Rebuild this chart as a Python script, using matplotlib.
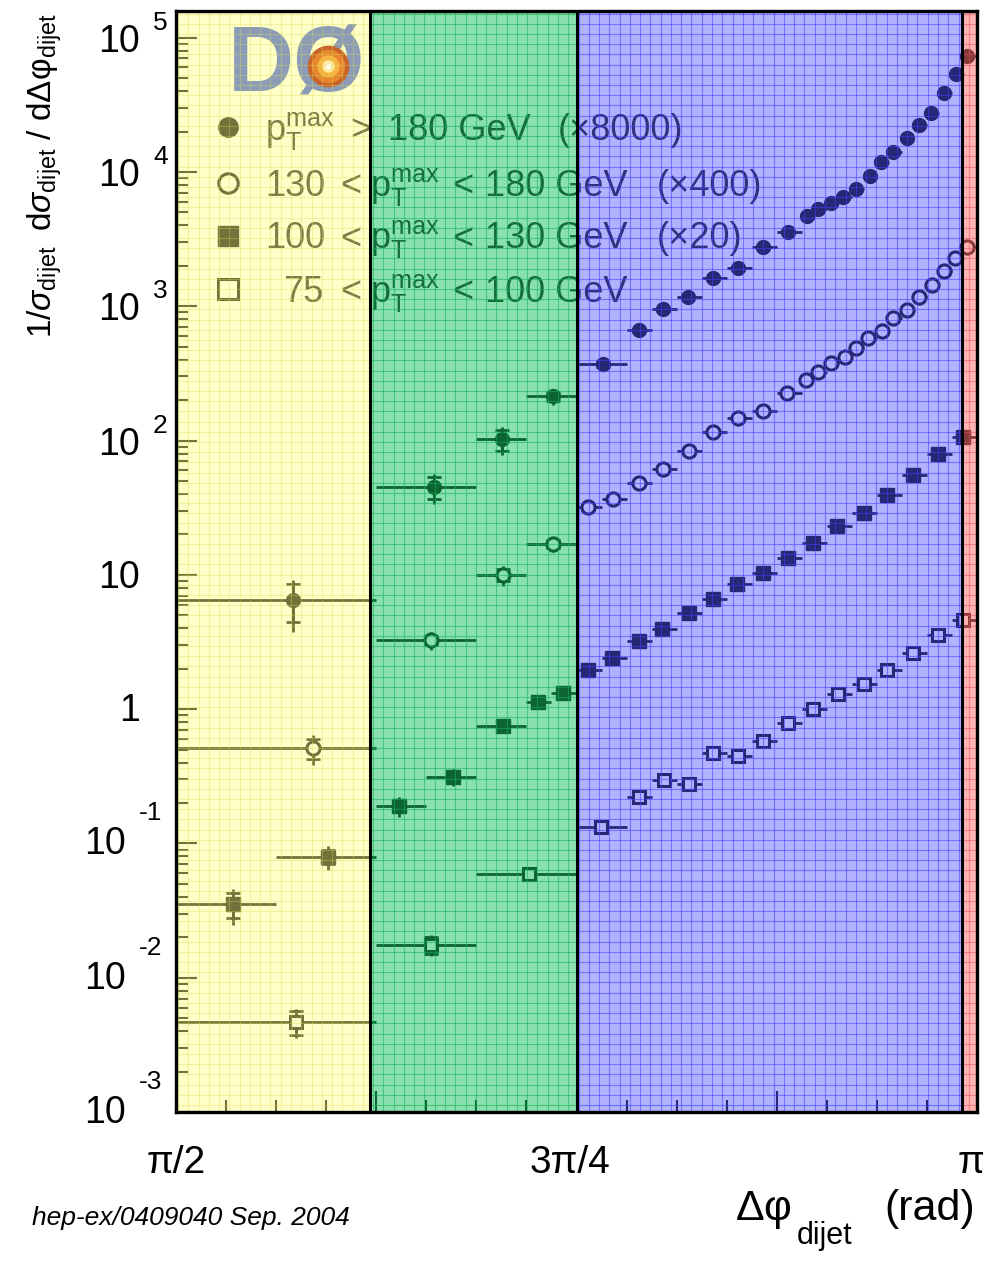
import numpy as np
import matplotlib
matplotlib.use("Agg")
import matplotlib.pyplot as plt
import matplotlib.transforms as mtransforms
from matplotlib.collections import LineCollection
from matplotlib.ticker import FixedLocator, LogLocator, NullFormatter

plt.rcParams["font.family"] = ["Liberation Sans", "DejaVu Sans"]
plt.rcParams["mathtext.fontset"] = "custom"
plt.rcParams["mathtext.rm"] = "Liberation Sans"
plt.rcParams["mathtext.it"] = "Liberation Sans:italic"
plt.rcParams["mathtext.bf"] = "Liberation Sans:bold"

PI = np.pi

# ---------------------------------------------------------------------------
# Normalised dijet azimuthal decorrelation, 1/sigma dsigma/dDphi.
# Values already include the scale factor quoted in the legend.
# Bin edges are given in units of pi/128; errors are in percent.
# ---------------------------------------------------------------------------

# pT^max > 180 GeV  (x8000)
s1_x = [1.800, 2.077, 2.210, 2.310, 2.408, 2.479, 2.526, 2.575, 2.624, 2.673,
        2.722, 2.771, 2.808, 2.830, 2.855, 2.879, 2.904, 2.932, 2.953, 2.977,
        3.004, 3.028, 3.051, 3.077, 3.100, 3.122]
s1_y = [6.5, 45, 102, 214, 370, 663, 950, 1167, 1616, 1919,
        2748, 3556, 4677, 5272, 5845, 6482, 7435, 9290, 11820, 14030,
        17830, 22270, 27360, 38550, 53380, 72600]
s1_edges = [64, 80, 88, 92, 96, 100, 102, 104, 106, 108, 110, 112, 114,
            115, 116, 117, 118, 119, 120, 121, 122, 123, 124, 125, 126, 127, 128]
s1_stat = [32, 18, 18, 8, 4, 3, 3, 3, 3, 3, 3, 3, 3, 3, 3, 3, 3, 3, 3, 3,
           3, 3, 3, 3, 3, 3]
s1_tot = [42, 25, 23, 14, 7, 5, 5, 5, 5, 5, 5, 5, 5, 5, 5, 5, 5, 5, 5, 5,
          5, 5, 5, 5, 5, 5]

# 130 < pT^max < 180 GeV  (x400)
s2_x = [1.840, 2.071, 2.212, 2.310, 2.379, 2.428, 2.479, 2.526, 2.577, 2.624,
        2.673, 2.722, 2.769, 2.806, 2.830, 2.855, 2.883, 2.904, 2.928, 2.955,
        2.977, 3.004, 3.028, 3.053, 3.077, 3.098, 3.122]
s2_y = [0.514, 3.27, 9.97, 16.9, 31.9, 36.6, 48.2, 61.3, 83.4, 115.5,
        146.8, 165.5, 225.4, 281, 323, 377, 417, 487, 578, 651,
        814, 934, 1167, 1435, 1824, 2279, 2752]
s2_edges = [64, 80, 88, 92, 96, 98, 100, 102, 104, 106, 108, 110, 112, 114,
            115, 116, 117, 118, 119, 120, 121, 122, 123, 124, 125, 126, 127, 128]
s2_stat = [17, 8, 10, 7, 4, 3, 3, 3, 3, 3, 3, 3, 3, 3, 3, 3, 3, 3, 3, 3,
           3, 3, 3, 3, 3, 3, 3]
s2_tot = [25, 15, 17, 12, 7, 5, 5, 5, 5, 5, 5, 5, 5, 5, 5, 5, 5, 5, 5, 5,
          5, 5, 5, 5, 5, 5, 5]

# 100 < pT^max < 130 GeV  (x20)
s3_x = [1.683, 1.869, 2.008, 2.114, 2.212, 2.281, 2.330, 2.379, 2.426, 2.479,
        2.524, 2.577, 2.624, 2.671, 2.722, 2.771, 2.820, 2.867, 2.920, 2.965,
        3.016, 3.065, 3.114]
s3_y = [0.0355, 0.0794, 0.1905, 0.313, 0.750, 1.13, 1.32, 1.957, 2.405, 3.22,
        3.96, 5.21, 6.62, 8.56, 10.33, 13.36, 17.28, 23.1, 28.9, 39.3,
        55.4, 79.4, 106.2]
s3_edges = [64, 72, 80, 84, 88, 92, 94, 96, 98, 100, 102, 104, 106, 108, 110,
            112, 114, 116, 118, 120, 122, 124, 126, 128]
s3_stat = [21, 12, 10, 9, 6, 5, 5, 3, 3, 3, 3, 3, 3, 3, 3, 3, 3, 3, 3, 3,
           3, 3, 3]
s3_tot = [30, 20, 17, 15, 9, 7, 7, 5, 5, 5, 5, 5, 5, 5, 5, 5, 5, 5, 5, 5,
          5, 5, 5]

# 75 < pT^max < 100 GeV
s4_x = [1.806, 2.071, 2.263, 2.404, 2.479, 2.528, 2.577, 2.624, 2.673, 2.722,
        2.771, 2.820, 2.869, 2.920, 2.965, 3.016, 3.065, 3.114]
s4_y = [0.00471, 0.0176, 0.0594, 0.1329, 0.2222, 0.2973, 0.2777, 0.472, 0.4484,
        0.580, 0.789, 1.003, 1.297, 1.540, 1.957, 2.62, 3.565, 4.61]
s4_edges = [64, 80, 88, 96, 100, 102, 104, 106, 108, 110, 112, 114, 116, 118,
            120, 122, 124, 126, 128]
s4_stat = [20, 14, 6, 4, 4, 4, 4, 4, 4, 4, 4, 4, 4, 4, 4, 4, 4, 4]
s4_tot = [25, 18, 9, 6, 6, 6, 6, 6, 6, 6, 6, 6, 6, 6, 6, 6, 6, 6]

PT = r"$\mathrm{p}_{\mathrm{T}}^{\mathrm{max}}$"
legend_labels = [
    [(265, PT), (350, ">"), (388, "180 GeV"), (558, "(\u00d78000)")],
    [(265, "130"), (340, "<"), (370, PT), (452, "<"), (485, "180 GeV"),
     (657, "(\u00d7400)")],
    [(265, "100"), (340, "<"), (370, PT), (452, "<"), (485, "130 GeV"),
     (657, "(\u00d720)")],
    [(283, "75"), (340, "<"), (370, PT), (452, "<"), (485, "100 GeV")],
]

# Topology regions along Delta phi and their tints
region_edges = [PI / 2, 1.951, 3 * PI / 4, 3.112, PI]
region_fill = [(1.00, 1.00, 0.52, 0.45), (0.11, 0.77, 0.38, 0.51),
               (0.34, 0.34, 1.00, 0.46), (1.00, 0.44, 0.44, 0.53)]
region_grid = [(0.85, 0.85, 0.35, 0.35), (0.05, 0.70, 0.35, 0.55),
               (0.25, 0.25, 1.00, 0.55), (0.92, 0.30, 0.30, 0.50)]

W, H = 987, 1262
AX_L, AX_T, AX_R, AX_B = 176, 11, 977, 1112
AW, AH = AX_R - AX_L, AX_B - AX_T

fig = plt.figure(figsize=(W / 100, H / 100), dpi=100)
ax = fig.add_axes([AX_L / W, (H - AX_B) / H, AW / W, AH / H])
ax.set_xlim(PI / 2, PI)
ax.set_yscale("log")
ax.set_ylim(1e-3, 1.58e5)
ax.set_facecolor("white")


def afrac(xp, yp):
    return (xp - AX_L) / AW, (AX_B - yp) / AH


def draw_series(x, y, edges, stat, tot, marker, filled, ms, mew):
    x = np.asarray(x, float)
    y = np.asarray(y, float)
    e = np.asarray(edges, float) * PI / 128
    lo, hi = e[:-1], e[1:]
    st = y * np.asarray(stat, float) / 100
    tt = y * np.asarray(tot, float) / 100
    ax.errorbar(x, y, xerr=[x - lo, hi - x], fmt="none", ecolor="black",
                elinewidth=2.0, capsize=0, zorder=3)
    ax.errorbar(x, y, yerr=tt, fmt="none", ecolor="black",
                elinewidth=2.0, capsize=0, zorder=3)
    ax.errorbar(x, y, yerr=st, fmt="none", ecolor="black",
                elinewidth=2.0, capsize=5, capthick=2.0, zorder=3)
    ax.plot(x, y, ls="none", marker=marker, ms=ms, mew=mew,
            mfc="black" if filled else "white", mec="black", zorder=4)


draw_series(s1_x, s1_y, s1_edges, s1_stat, s1_tot, "o", True, 10, 1.0)
draw_series(s2_x, s2_y, s2_edges, s2_stat, s2_tot, "o", False, 9.5, 2.2)
draw_series(s3_x, s3_y, s3_edges, s3_stat, s3_tot, "s", True, 10, 1.0)
draw_series(s4_x, s4_y, s4_edges, s4_stat, s4_tot, "s", False, 9, 2.2)

# Legend
leg_rows = [127, 183, 236, 289]
leg_style = [("o", True), ("o", False), ("s", True), ("s", False)]
for yp, (mk, filled), parts in zip(leg_rows, leg_style, legend_labels):
    fx, fy = afrac(228, yp)
    ax.plot([fx], [fy], transform=ax.transAxes, ls="none", marker=mk, ms=14,
            mew=1.0 if filled else 2.2, mfc="black" if filled else "white",
            mec="black", clip_on=False, zorder=4)
    for xp, s in parts:
        tx, ty = afrac(xp, yp + 12.5)
        ax.text(tx, ty, s, transform=ax.transAxes, fontsize=26,
                ha="left", va="baseline", color="#111111", zorder=4)

# Ticks
ax.xaxis.set_major_locator(FixedLocator([PI / 2 + k * PI / 8 for k in range(5)]))
ax.xaxis.set_minor_locator(FixedLocator([PI / 2 + k * PI / 32 for k in range(17)]))
ax.yaxis.set_major_locator(LogLocator(base=10, numticks=20))
ax.yaxis.set_minor_locator(LogLocator(base=10, subs=np.arange(2, 10), numticks=20))
for axis in (ax.xaxis, ax.yaxis):
    axis.set_major_formatter(NullFormatter())
    axis.set_minor_formatter(NullFormatter())
ax.tick_params(which="both", direction="in", top=False, right=False,
               colors="black", width=1.5)
ax.tick_params(which="major", length=15)
ax.tick_params(which="minor", length=8.5)

# Tinted topology regions with their fine grid
gx = np.arange(2.0, AW, 10.27) / AW
gy = 1 - np.arange(2.5, AH, 10.2) / AH
gx_data = PI / 2 + gx * (PI / 2)
xt = ax.get_xaxis_transform()
for i in range(4):
    x0, x1 = region_edges[i], region_edges[i + 1]
    ax.axvspan(x0, x1, facecolor=region_fill[i], edgecolor="none", zorder=5)
    segs = [[(x, 0), (x, 1)] for x in gx_data if x0 < x < x1]
    segs += [[(x0, y), (x1, y)] for y in gy]
    ax.add_collection(LineCollection(segs, colors=[region_grid[i]],
                                     linewidths=0.8, transform=xt, zorder=7))
for b in region_edges[1:-1]:
    ax.axvline(b, color="black", lw=2.2, zorder=9)
for sp in ax.spines.values():
    sp.set_linewidth(2.4)
    sp.set_zorder(9)

# Experiment logo
lx, ly = afrac(228, 66)
ax.text(lx, ly, "D\u00d8", transform=ax.transAxes, fontsize=66,
        fontweight="bold", color="#8C9CB6", ha="left", va="center", zorder=6)
sx, sy = afrac(328, 66)
for ms, col in [(30, "#C8642A"), (24, "#E8862E"), (16, "#F6B441"),
                (9, "#FFE9A0"), (4, "#FFFFFF")]:
    ax.plot([sx], [sy], transform=ax.transAxes, marker="o", ms=ms,
            color=col, mew=0, zorder=6.5)

# Axis numbers drawn in the ROOT style
ytr = ax.get_yaxis_transform()
for n in range(-3, 6):
    v = 10.0 ** n
    if n == 0:
        t = mtransforms.offset_copy(ytr, fig=fig, x=-36, y=-2, units="dots")
        fig.text(0, v, "1", transform=t, fontsize=27, ha="right", va="center")
    elif n == 1:
        t = mtransforms.offset_copy(ytr, fig=fig, x=-36, y=-3, units="dots")
        fig.text(0, v, "10", transform=t, fontsize=27, ha="right", va="center")
    elif n > 1:
        t = mtransforms.offset_copy(ytr, fig=fig, x=-36, y=-4, units="dots")
        fig.text(0, v, "10", transform=t, fontsize=27, ha="right", va="center")
        t = mtransforms.offset_copy(ytr, fig=fig, x=-23, y=15, units="dots")
        fig.text(0, v, str(n), transform=t, fontsize=19, ha="left", va="center")
    else:
        t = mtransforms.offset_copy(ytr, fig=fig, x=-50, y=-1, units="dots")
        fig.text(0, v, "10", transform=t, fontsize=27, ha="right", va="center")
        t = mtransforms.offset_copy(ytr, fig=fig, x=-37, y=30, units="dots")
        fig.text(0, v, "-%d" % (-n), transform=t, fontsize=19, ha="left", va="center")

for xv, s, dx in [(PI / 2, "\u03c0/2", 0), (3 * PI / 4, "3\u03c0/4", -7), (PI, "\u03c0", -6)]:
    t = mtransforms.offset_copy(xt, fig=fig, x=dx, y=-51, units="dots")
    fig.text(xv, 0, s, transform=t, fontsize=28, ha="center", va="center")

# Axis titles and reference note
fig.text(45 / W, 1 - 176 / H,
         r"$1/\sigma_{\mathrm{dijet}}\;\;\mathrm{d}\sigma_{\mathrm{dijet}}\ /\ \mathrm{d}\Delta\mathrm{φ}_{\mathrm{dijet}}$",
         rotation=90, fontsize=24, ha="center", va="center")
fig.text(735 / W, 1 - 1220 / H, r"$\Delta\mathrm{φ}$",
         fontsize=31, ha="left", va="baseline")
fig.text(797 / W, 1 - 1244 / H, "dijet", fontsize=22, ha="left", va="baseline")
fig.text(975 / W, 1 - 1220 / H, "(rad)", fontsize=31, ha="right", va="baseline")
fig.text(32 / W, 1 - 1218 / H, "hep-ex/0409040 Sep. 2004",
         fontsize=19, style="italic", ha="left", va="center")

fig.savefig("out.png", dpi=100)
